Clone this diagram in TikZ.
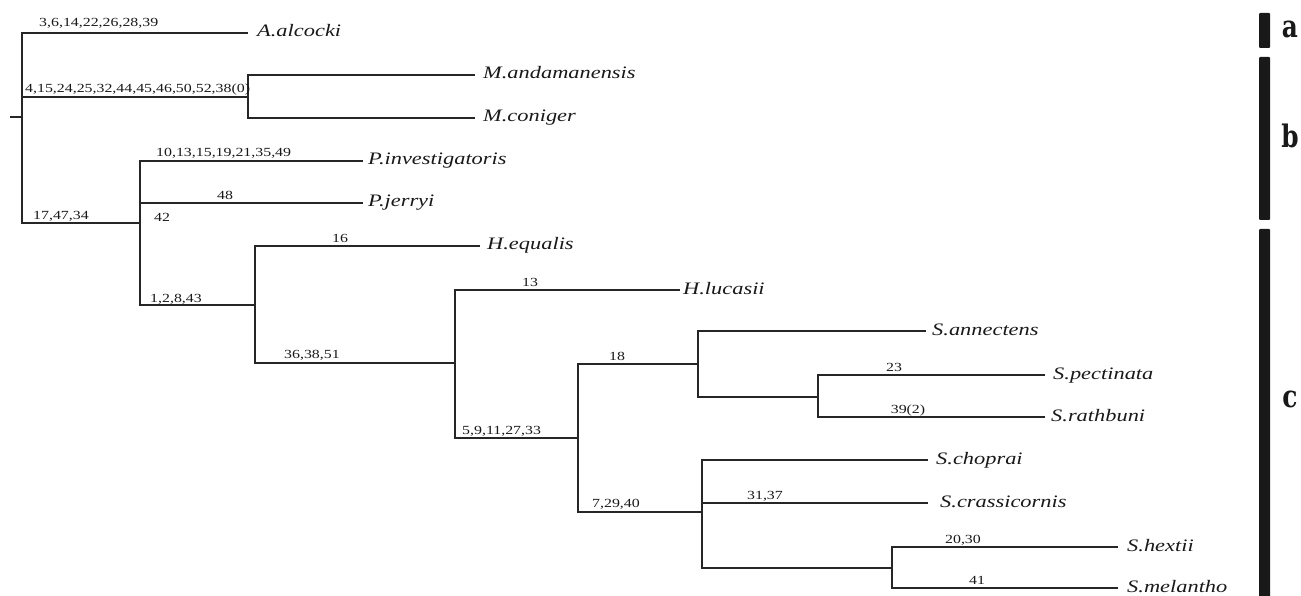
\documentclass[tikz,border=0pt]{standalone}
\usepackage{fontspec}
\newfontfamily\spfont[FakeStretch=1.28]{Liberation Serif}
\newfontfamily\nmfont[FakeStretch=1.28]{Liberation Serif}
\newfontfamily\grpfont[FakeStretch=0.8]{DejaVu Serif}
\tikzset{
  br/.style={draw=black!85, line width=1.1pt},
  sp/.style={font=\spfont\fontsize{17.5}{20}\selectfont\itshape, inner sep=0pt, anchor=base west, text=black!90},
  num/.style={font=\nmfont\fontsize{12.4}{14}\selectfont, inner sep=0pt, anchor=base west, text=black!90},
  numc/.style={num, anchor=base},
  grp/.style={fill=black!90, rounded corners=1pt},
  grplab/.style={inner sep=0pt, anchor=base, font=\grpfont\fontsize{31}{36}\selectfont\bfseries, text=black!90}
}
\begin{document}
\begin{tikzpicture}[x=1pt,y=-1pt]
\useasboundingbox (0,0) rectangle (1301,596);
% internal nodes
\coordinate (stub) at (10,117);
\coordinate (root) at (22,117);
\coordinate (nM) at (248,97);
\coordinate (nP) at (140,223);
\coordinate (nH) at (255,305);
\coordinate (nL) at (455,363);
\coordinate (nS) at (578,438);
\coordinate (nA) at (698,364);
\coordinate (nPR) at (818,397);
\coordinate (nC) at (702,512);
\coordinate (nHM) at (892,568);
% leaf line ends
\coordinate (eA) at (248,33);
\coordinate (eMa) at (475,75);
\coordinate (eMc) at (475,118);
\coordinate (ePi) at (363,161);
\coordinate (ePj) at (363,203);
\coordinate (eHe) at (480,246);
\coordinate (eHl) at (680,290);
\coordinate (eSa) at (926,331);
\coordinate (eSp) at (1045,375);
\coordinate (eSr) at (1045,417);
\coordinate (eSc) at (928,460);
\coordinate (eScr) at (928,503);
\coordinate (eSh) at (1118,547);
\coordinate (eSm) at (1118,588);
% branches
\draw[br] (stub) -- (root);
\draw[br] (root) |- (eA);
\draw[br] (root) |- (nM);
\draw[br] (root) |- (nP);
\draw[br] (nM) |- (eMa);
\draw[br] (nM) |- (eMc);
\draw[br] (nP) |- (ePi);
\draw[br] (nP) |- (ePj);
\draw[br] (nP) |- (nH);
\draw[br] (nH) |- (eHe);
\draw[br] (nH) |- (nL);
\draw[br] (nL) |- (eHl);
\draw[br] (nL) |- (nS);
\draw[br] (nS) |- (nA);
\draw[br] (nS) |- (nC);
\draw[br] (nA) |- (eSa);
\draw[br] (nA) |- (nPR);
\draw[br] (nPR) |- (eSp);
\draw[br] (nPR) |- (eSr);
\draw[br] (nC) |- (eSc);
\draw[br] (nC) |- (eScr);
\draw[br] (nC) |- (nHM);
\draw[br] (nHM) |- (eSh);
\draw[br] (nHM) |- (eSm);
% species names
\node[sp] (tA) at (257,37) {A.alcocki};
\node[sp] (tMa) at (483,79) {M.andamanensis};
\node[sp] (tMc) at (483,122) {M.coniger};
\node[sp] (tPi) at (368,165) {P.investigatoris};
\node[sp] (tPj) at (368,207) {P.jerryi};
\node[sp] (tHe) at (487,250) {H.equalis};
\node[sp] (tHl) at (683,294) {H.lucasii};
\node[sp] (tSa) at (932,335) {S.annectens};
\node[sp] (tSp) at (1053,379) {S.pectinata};
\node[sp] (tSr) at (1051,421) {S.rathbuni};
\node[sp] (tSc) at (936,464) {S.choprai};
\node[sp] (tScr) at (940,507) {S.crassicornis};
\node[sp] (tSh) at (1127,551) {S.hextii};
\node[sp] (tSm) at (1127,592) {S.melantho};
% character labels
\node[num] (c1) at (39,27) {3,6,14,22,26,28,39};
\node[num] (c2) at (25,93) {4,15,24,25,32,44,45,46,50,52,38(0)};
\node[num] (c3) at (156,157) {10,13,15,19,21,35,49};
\node[numc] (c4) at (225,200) {48};
\node[num] (c5) at (154,222) {42};
\node[num] (c6) at (33,219) {17,47,34};
\node[numc] (c7) at (340,243) {16};
\node[num] (c8) at (150,302) {1,2,8,43};
\node[num] (c9) at (284,358) {36,38,51};
\node[numc] (c10) at (530,286) {13};
\node[num] (c11) at (462,434) {5,9,11,27,33};
\node[numc] (c12) at (617,360) {18};
\node[numc] (c13) at (894,371) {23};
\node[numc] (c14) at (908,413) {39(2)};
\node[num] (c15) at (592,507) {7,29,40};
\node[numc] (c16) at (765,499) {31,37};
\node[numc] (c17) at (963,543) {20,30};
\node[numc] (c18) at (977,584) {41};
% group bars
\fill[grp] (1259,13) rectangle (1270,48);
\fill[grp] (1259,57) rectangle (1270,220);
\fill[grp] (1259,229) rectangle (1270,600);
\node[grplab] (ga) at (1290,38) {a};
\node[grplab] (gb) at (1290,148) {b};
\node[grplab] (gc) at (1290,407) {c};
\end{tikzpicture}
\end{document}
